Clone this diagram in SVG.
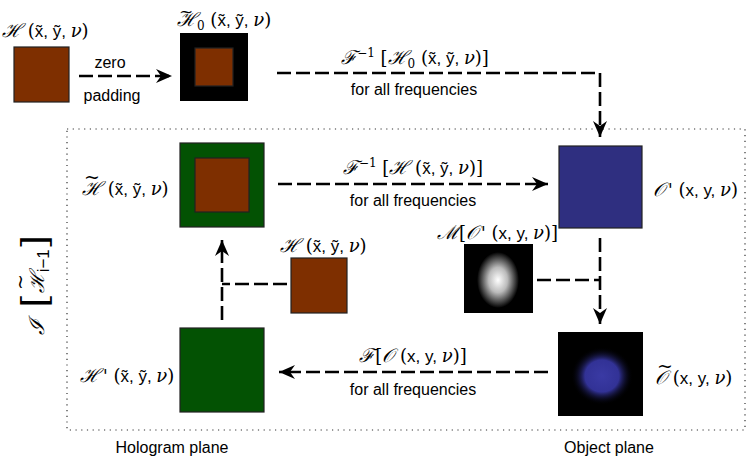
<svg xmlns="http://www.w3.org/2000/svg" width="750" height="461" viewBox="0 0 750 461">
<style>
.m{font-family:"DejaVu Serif","Liberation Serif",serif;font-size:18px;fill:#000}
.s{font-family:"Liberation Sans",Arial,sans-serif;font-size:16px;fill:#000}
.sx{font-family:"Liberation Sans",Arial,sans-serif;font-size:17px}
.i{font-style:italic}
.g{font-size:19px}
.t{font-size:19px}
.p{font-family:"DejaVu Sans",sans-serif;font-style:italic;font-size:17px}
.c{stroke:#000;stroke-width:2.6;fill:none;stroke-dasharray:14 5}
.box{stroke:#222;stroke-width:1.2}
.brown{fill:#7e2f00}
.green{fill:#035203}
.blue{fill:#2f2f80}
</style>
<defs>
<marker id="ah" markerUnits="userSpaceOnUse" markerWidth="20" markerHeight="16" viewBox="-16 -8 20 16" refX="0" refY="0" orient="auto">
<path d="M0,0 L-16,-7 L-11,0 L-16,7 Z" fill="#000"/>
</marker>
<radialGradient id="mask" cx="0.5" cy="0.5" r="0.5">
<stop offset="0" stop-color="#fff"/>
<stop offset="0.45" stop-color="#bbb"/>
<stop offset="1" stop-color="#000"/>
</radialGradient>
<radialGradient id="blob" cx="0.5" cy="0.5" r="0.5">
<stop offset="0" stop-color="#3a3aa4"/>
<stop offset="0.55" stop-color="#323296"/>
<stop offset="1" stop-color="#000" stop-opacity="0"/>
</radialGradient>
</defs>
<rect width="750" height="461" fill="#fff"/>

<rect x="67" y="129" width="678" height="301" fill="none" stroke="#333" stroke-width="1.2" stroke-dasharray="1.2 4.5"/>

<g id="connectors">
<line class="c" x1="79" y1="76" x2="172" y2="76" marker-end="url(#ah)"/>
<path class="c" d="M277,73 H600 V137" marker-end="url(#ah)"/>
<line class="c" x1="278" y1="184" x2="548" y2="184" marker-end="url(#ah)"/>
<line class="c" x1="600" y1="238" x2="600" y2="324" marker-end="url(#ah)"/>
<line class="c" x1="537" y1="280" x2="600" y2="280"/>
<line class="c" x1="548" y1="372" x2="279" y2="372" marker-end="url(#ah)"/>
<line class="c" x1="222" y1="320" x2="222" y2="240" marker-end="url(#ah)"/>
<line class="c" x1="287" y1="284" x2="222" y2="284"/>
<text class="s" x="110" y="68" text-anchor="middle">zero</text>
<text class="s" x="112" y="101" text-anchor="middle">padding</text>
<text class="m" x="415" y="64" text-anchor="middle"><tspan class="i g">ℱ</tspan><tspan font-size="12" dy="-7">−1</tspan><tspan dy="7"> [</tspan><tspan class="i g">ℋ</tspan><tspan font-size="12" dy="4">0</tspan><tspan dy="-4"> (</tspan><tspan class="sx">x̃, ỹ, </tspan><tspan class="i">ν</tspan>)]</text>
<text class="s" x="414" y="95" text-anchor="middle">for all frequencies</text>
<text class="m" x="413" y="174" text-anchor="middle"><tspan class="i g">ℱ</tspan><tspan font-size="12" dy="-7">−1</tspan><tspan dy="7"> [</tspan><tspan class="i g">ℋ</tspan> (<tspan class="sx">x̃, ỹ, </tspan><tspan class="i">ν</tspan>)]</text>
<text class="s" x="413" y="206" text-anchor="middle">for all frequencies</text>
<text class="m" x="413" y="362" text-anchor="middle"><tspan class="i g">ℱ</tspan>[<tspan class="i g">𝒪</tspan> (<tspan class="sx">x, y, </tspan><tspan class="i">ν</tspan>)]</text>
<text class="s" x="413" y="395" text-anchor="middle">for all frequencies</text>
</g>

<g id="H-input">
<rect class="box brown" x="14" y="47" width="55" height="55"/>
<text class="m" x="2" y="37"><tspan class="i g">ℋ</tspan> (<tspan class="sx">x̃, ỹ, </tspan><tspan class="i">ν</tspan>)</text>
</g>

<g id="H0-padded">
<rect x="180" y="33" width="68" height="68" fill="#000"/>
<rect class="box brown" x="195" y="48" width="38" height="38"/>
<text class="m" y="26"><tspan font-size="17" x="179" dy="-9">~</tspan><tspan class="i g" x="177" dy="9">ℋ</tspan><tspan font-size="12" dy="4">0</tspan><tspan dy="-4"> (</tspan><tspan class="sx">x̃, ỹ, </tspan><tspan class="i">ν</tspan>)</text>
</g>

<g id="O-prime">
<rect class="box blue" x="559" y="146" width="83" height="82"/>
<text class="m" x="653" y="196"><tspan class="i g">𝒪</tspan><tspan class="p" dx="3">'</tspan> (<tspan class="sx">x, y, </tspan><tspan class="i">ν</tspan>)</text>
</g>

<g id="H-tilde">
<rect class="box green" x="180" y="143" width="84" height="84"/>
<rect class="box brown" x="195" y="158" width="54" height="54"/>
<text class="m" y="195"><tspan class="t" x="84" dy="-12">~</tspan><tspan class="i g" x="82" dy="12">ℋ</tspan> (<tspan class="sx">x̃, ỹ, </tspan><tspan class="i">ν</tspan>)</text>
</g>

<g id="mask">
<rect x="464" y="244" width="69" height="69" fill="#000"/>
<ellipse cx="498" cy="280" rx="21" ry="28" fill="url(#mask)"/>
<text class="m" x="437" y="239"><tspan class="i g">ℳ</tspan>[<tspan class="i g">𝒪</tspan><tspan class="p" dx="3">'</tspan> (<tspan class="sx">x, y, </tspan><tspan class="i">ν</tspan>)]</text>
</g>

<g id="H-constraint">
<rect class="box brown" x="291" y="258" width="56" height="55"/>
<text class="m" x="280" y="252"><tspan class="i g">ℋ</tspan> (<tspan class="sx">x̃, ỹ, </tspan><tspan class="i">ν</tspan>)</text>
</g>

<g id="O-tilde">
<rect x="558" y="332" width="85" height="84" fill="#000"/>
<ellipse cx="602" cy="376" rx="31" ry="29" fill="url(#blob)"/>
<text class="m" y="384"><tspan class="t" x="657" dy="-12">~</tspan><tspan class="i g" x="655" dy="12">𝒪</tspan> (<tspan class="sx">x, y, </tspan><tspan class="i">ν</tspan>)</text>
</g>

<g id="H-prime">
<rect class="box green" x="180" y="328" width="84" height="84"/>
<text class="m" x="80" y="382"><tspan class="i g">ℋ</tspan><tspan class="p" dx="3">'</tspan> (<tspan class="sx">x̃, ỹ, </tspan><tspan class="i">ν</tspan>)</text>
</g>

<g id="iteration-label">
<text class="m" transform="translate(44,285) rotate(-90)" text-anchor="middle"><tspan class="i" font-size="21">ℐ</tspan><tspan font-size="36" dy="3"> [</tspan><tspan class="i" font-size="20" dy="-3">ℋ</tspan><tspan font-size="13" dy="5" class="sx">i−1</tspan><tspan font-size="36" dy="-2">]</tspan></text>
<text class="m t" transform="translate(26,290) rotate(-90)">~</text>
</g>

<text class="s" x="172" y="453" text-anchor="middle">Hologram plane</text>
<text class="s" x="609" y="453" text-anchor="middle">Object plane</text>
</svg>
